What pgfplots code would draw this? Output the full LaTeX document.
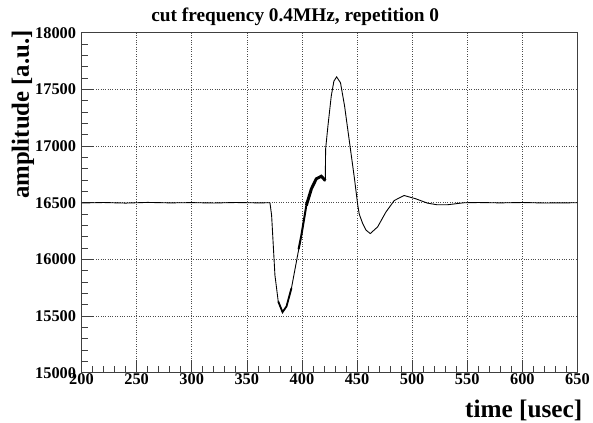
\documentclass[border=0pt]{standalone}
\usepackage{fontspec}
\setmainfont{Liberation Serif}
\usepackage{pgfplots}
\pgfplotsset{compat=1.18}
\begin{document}
\begin{tikzpicture}
\begin{axis}[
  name=ax,
  width=499bp, height=342bp, scale only axis,
  xmin=200, xmax=650, ymin=15000, ymax=18000,
  xtick={200,250,...,650}, ytick={15000,15500,...,18000},
  scaled y ticks=false, scaled x ticks=false,
  minor x tick num=4, minor y tick num=4,
  tick align=inside, tick pos=left,
  major tick length=13bp, minor tick length=7bp,
  grid=major, major grid style={dotted, black!70, line width=0.6pt},
  axis line style={black!75, line width=0.8pt},
  tick style={black!75, line width=0.6pt},
  /pgf/number format/assume math mode=true,
  /pgf/number format/1000 sep={},
  ticklabel style={font=\bfseries\fontsize{16.5}{16.5}\selectfont},
  yticklabel style={xshift=-2bp},
  xticklabel style={yshift=3bp},
  title={cut frequency 0.4MHz, repetition 0},
  title style={font=\bfseries\fontsize{19.5}{19.5}\selectfont, at={(axis description cs:0.431,1)}, anchor=south, inner sep=0pt, yshift=1bp},
  xlabel={time [usec]},
  xlabel style={font=\bfseries\fontsize{25.5}{25.5}\selectfont, at={(axis description cs:1,-0.08)}, anchor=north east, inner sep=0pt, xshift=5bp},
  ylabel={amplitude [a.u.]},
  ylabel style={font=\bfseries\fontsize{25}{25}\selectfont, at={(axis description cs:-0.118,1.008)}, anchor=east, inner sep=0pt},
]
\addplot[black, line width=0.9pt] coordinates {
(200,16498)(220,16502)(240,16497)(260,16503)(280,16499)(300,16501)(320,16498)(340,16502)(360,16499)(371,16500)
(372.5,16389)(375.5,15862)(378.5,15629)(382.4,15535)(386,15585)(390.5,15746)(395,15980)(399.5,16213)
(404,16476)(408.6,16623)(413,16711)(417.6,16734)(421.2,16696)(421.5,16974)(423.6,17178)(426.6,17441)
(429,17573)(431.5,17611)(435,17559)(438.7,17354)(443.2,17032)(447.7,16711)(450.7,16476)(452,16400)
(455,16320)(458,16260)(462,16228)(468.7,16287)(476.2,16418)(483.8,16520)(492.8,16564)(503.3,16535)
(513.8,16497)(522.8,16482)(531.8,16482)(547,16500)(560,16502)(580,16499)(600,16502)(620,16498)(650,16500)
};
\addplot[black, line width=1.8pt] coordinates {
(378.5,15629)(382.4,15535)(386,15585)(390.5,15746)
};
\addplot[black, line width=2pt] coordinates {
(397,16090)(399.5,16213)(404,16476)
};
\addplot[black, line width=3pt] coordinates {
(404,16476)(408.6,16623)(413,16711)(417.6,16734)(421.2,16696)
};
\end{axis}
\path (ax.south west) ++(-82bp,-50bp) rectangle ++(593bp,425bp);
\end{tikzpicture}
\end{document}
